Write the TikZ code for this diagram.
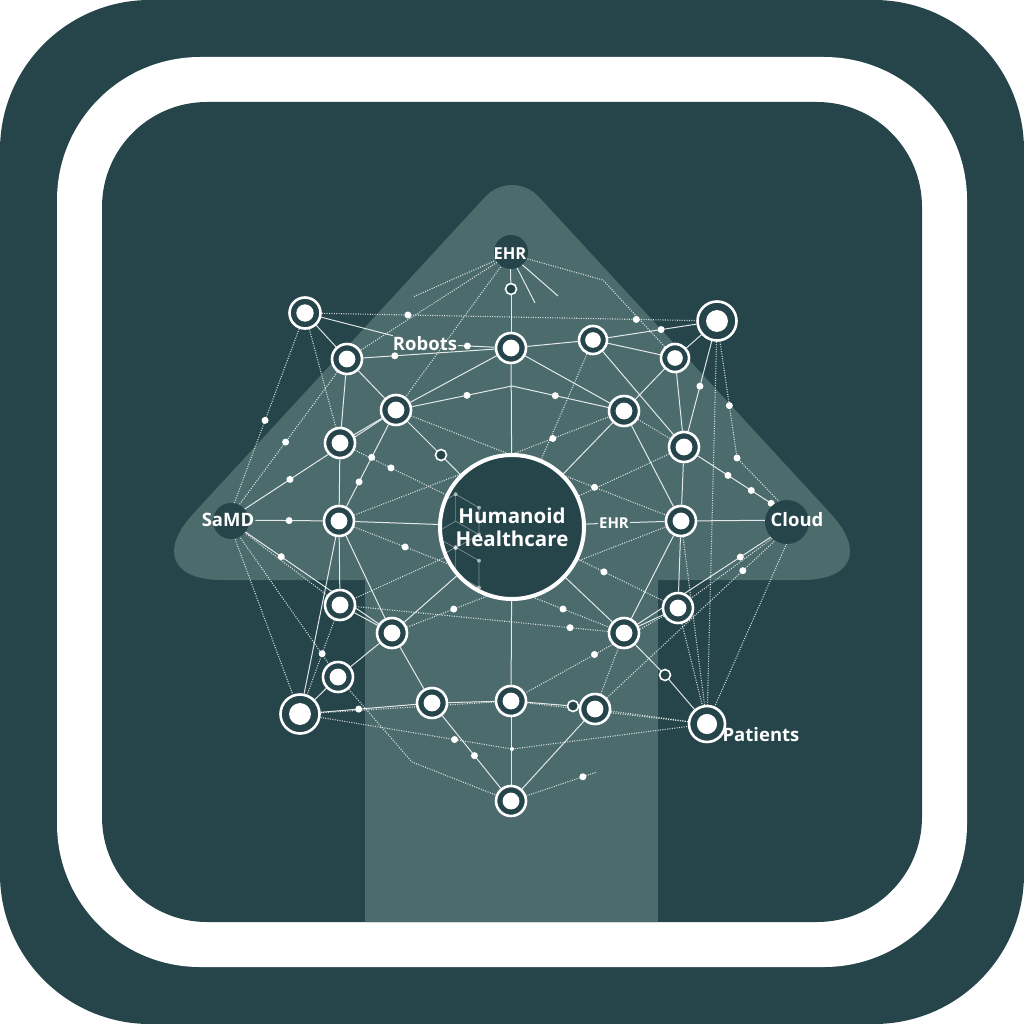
\documentclass[tikz,border=0pt]{standalone}
\usepackage{fontspec}
\setmainfont{Open Sans}
\definecolor{fondo}{HTML}{25454A}
\definecolor{freccia}{HTML}{4B6B6C}
\pgfdeclarelayer{sfondo}
\pgfdeclarelayer{linee}
\pgfsetlayers{sfondo,linee,main}
\tikzset{
  anello/.style={circle, draw=white, line width=2.6pt, fill=fondo, inner sep=0pt,
    minimum size=#1, path picture={\fill[white] (path picture bounding box.center) circle ({0.28*#1});}},
  anello/.default=30pt,
  aperto/.style={circle, draw=white, line width=1.6pt, fill=fondo, inner sep=0pt, minimum size=11pt},
  puntino/.style={circle, fill=white, opacity=1, inner sep=0pt, minimum size=7pt},
  etichetta/.style={text=white, inner sep=1pt, font=\bfseries\fontsize{18.5}{22}\selectfont},
  linea/.style={white, opacity=.85, line width=1pt},
  punteggiata/.style={white, opacity=.8, line width=1.1pt, dash pattern=on 1pt off 1.4pt},
  centro/.style={circle, draw=white, line width=4pt, fill=fondo, inner sep=0pt, minimum size=144pt,
    text=white, align=center, font=\bfseries\fontsize{20.5}{23}\selectfont,
    path picture={
      \begin{scope}[shift={(path picture bounding box.center)}, white, line width=.7pt]
      \foreach \cy in {25pt,-28pt} {
        \draw[opacity=.4] (0pt,\cy) +(30:27pt) -- +(90:27pt) -- +(150:27pt) -- +(210:27pt) -- +(270:27pt) -- +(330:27pt) -- cycle
          (0pt,\cy) -- +(90:27pt) (0pt,\cy) -- +(210:27pt) (0pt,\cy) -- +(330:27pt);
        \foreach \ang in {30,90,150,210,270,330} \fill[opacity=.55] (0pt,\cy) ++(\ang:27pt) circle (2pt);
      }
      \end{scope}}}
}
\begin{document}
\begin{tikzpicture}[x=1pt, y=-1pt]
   \useasboundingbox (0,0) rectangle (1024,1024);
   %nodi
   \node[anello=31pt] (n1) at (305,313) {};
   \node[anello] (n2) at (347,359) {};
   \node[anello] (n3) at (511,348) {};
   \node[anello=28pt] (n4) at (593,340) {};
   \node[anello=28pt] (n5) at (675,358) {};
   \node[anello=39pt] (n6) at (717,321) {};
   \node[anello] (n7) at (396,410) {};
   \node[anello] (n8) at (624,411) {};
   \node[anello] (n9) at (340,443) {};
   \node[anello] (n10) at (684,447) {};
   \node[anello] (n11) at (339,521) {};
   \node[anello] (n12) at (681,521) {};
   \node[anello] (n13) at (340,605) {};
   \node[anello] (n14) at (678,608) {};
   \node[anello] (n15) at (392,633) {};
   \node[anello] (n16) at (624,633) {};
   \node[anello] (n17) at (338,677) {};
   \node[anello=39pt] (n18) at (300,714) {};
   \node[anello] (n19) at (432,703) {};
   \node[anello] (n20) at (511,701) {};
   \node[anello] (n21) at (595,709) {};
   \node[anello=36pt] (n22) at (707,724) {};
   \node[anello] (n23) at (511,801) {};
   \node[aperto] (o1) at (511,289) {};
   \node[aperto] (o2) at (441,455) {};
   \node[aperto] (o3) at (573,706) {};
   \node[aperto] (o4) at (665,675) {};
   %etichette
   \node[etichetta, font=\bfseries\fontsize{16.5}{20}\selectfont] (ehrT) at (510,254) {EHR};
   \node[etichetta] (robots) at (425,344) {Robots};
   \node[etichetta] (samd) at (228,520) {SaMD};
   \node[etichetta, font=\bfseries\fontsize{15}{18}\selectfont] (ehrR) at (614,523) {EHR};
   \node[etichetta] (cloud) at (797,520) {Cloud};
   \node[etichetta] (patients) at (761,735) {Patients};
   %centro
   \node[centro] (hub) at (512,527) {Humanoid\\Healthcare};
   \coordinate (c1) at (512,386);
   \coordinate (c2) at (413,297);
   \coordinate (c3) at (603,280);
   \coordinate (c4) at (558,296);
   \coordinate (c5) at (535,303);
   \coordinate (c6) at (737,458);
   \coordinate (c7) at (412,762);
   \coordinate (c8) at (597,772);
   \coordinate (c9) at (512,749);
   %sfondo
   \begin{pgfonlayer}{sfondo}
      \fill[white] (0,0) rectangle (1024,1024);
      \fill[fondo, rounded corners=150pt] (0,0) rectangle (1024,1024);
      \fill[white, rounded corners=143pt] (57,57) rectangle (967,967);
      \fill[fondo, rounded corners=105pt] (102,102) rectangle (922,922);
      %freccia
      \begin{scope}
         \clip[rounded corners=105pt] (102,102) rectangle (922,922);
         \fill[freccia] (222,580) .. controls (172,580) and (159,551) .. (193,514) -- (485,197)
            .. controls (500,181) and (524,181) .. (539,197) -- (831,514)
            .. controls (865,551) and (852,580) .. (802,580) -- cycle;
         \fill[freccia] (365,570) rectangle (658,940);
      \end{scope}
   \end{pgfonlayer}
   %collegamenti
   \begin{pgfonlayer}{linee}
      \foreach \a/\b in {ehrT/o1, o1/n3, n3/hub, n1/n2, n2/n7, n7/n3, n7/o2, o2/hub, n7/n9, n2/n9,
         n3/n4, n4/n5, n5/n6, n5/n8, n5/n10, n4/n10, n3/n8, n8/hub, n8/n12, n9/n11, n10/n12,
         n11/n13, n13/n15, n15/n17, n17/n18, n18/n11, n11/hub, hub/ehrR, ehrR/n12, n12/cloud,
         n12/n14, n14/n16, n15/hub, n16/hub, n20/hub, n15/n19, n19/n20, n20/o3, o3/n21, n20/n23,
         n21/n23, n16/o4, o4/n22, n1/robots, n12/n16, n11/n15, ehrT/c4, ehrT/c5}
         \draw[linea] (\a) -- (\b);
      \foreach \a/\b/\p in {n2/n3/.24, robots/n3/.25, n4/n6/.6, n19/n23/.55, n6/n10/.5, samd/n7/.35,
         samd/n11/.5, samd/n15/.3, cloud/n16/.3, n18/n19/.4}
         \draw[linea] (\a) -- (\b) node[puntino, pos=\p] {};
      \draw[linea] (n11) -- (n7) node[puntino, pos=.3] {} node[puntino, pos=.6] {};
      \draw[linea] (n10) -- (cloud) node[puntino, pos=.35] {} node[puntino, pos=.62] {} node[puntino, pos=.85] {};
      \draw[linea] (n7) -- (c1) node[puntino, pos=.55] {} -- (n8) node[puntino, pos=.45] {};
      \foreach \a/\b in {ehrT/c2, ehrT/n2, ehrT/n7, n1/n9, samd/n18, samd/n17, samd/n13, n6/n22,
         cloud/n22, cloud/n14, n12/n22, n14/n22, n21/n22, n20/n22, n18/n20, n4/hub, n8/n10,
         n16/n21, hub/n10, hub/n13}
         \draw[punteggiata] (\a) -- (\b);
      \foreach \a/\b/\p in {n1/samd/.5, samd/n2/.5, n9/hub/.4, n7/n12/.72, hub/n14/.3, n21/cloud/.75,
         n13/n18/.45, n15/n12/.18, n16/n13/.15, n14/n20/.5, n11/n8/.78, n23/c8/.8}
         \draw[punteggiata] (\a) -- (\b) node[puntino, pos=\p] {};
      \draw[punteggiata] (n1) -- (n6) node[puntino, pos=.23] {} node[puntino, pos=.84] {};
      \draw[punteggiata] (n11) -- (n16) node[puntino, pos=.2] {} node[puntino, pos=.82] {};
      \draw[punteggiata] (ehrT) -- (c3) -- (n5);
      \draw[punteggiata] (n6) -- (c6) node[puntino, pos=.55] {} node[puntino] {} -- (cloud);
      \draw[punteggiata] (n18) -- (c9) node[puntino, pos=.7] {} node[puntino, minimum size=4pt] {} -- (n22);
      \draw[punteggiata] (n17) -- (c7) -- (n23);
      %dischi sotto le etichette
      \fill[fondo] (ehrT.center) ++(1,-2) circle (17pt);
      \fill[fondo] (samd.center) ++(3,1) circle (18pt);
      \fill[fondo] (cloud.center) ++(-10,2) circle (22pt);
   \end{pgfonlayer}
\end{tikzpicture}
\end{document}
